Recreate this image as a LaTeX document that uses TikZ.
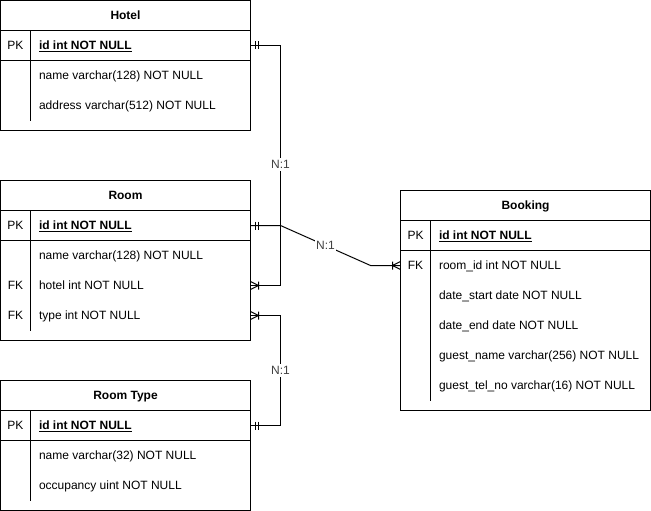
\documentclass[tikz,border=0pt]{standalone}
\usepackage{fontspec}
\setmainfont{Liberation Sans}
\usetikzlibrary{calc}
\begin{document}
\begin{tikzpicture}[x=1pt,y=-1pt,line width=1pt,
  entbox/.style={draw,black,fill=white,minimum width=250pt,anchor=north west,inner sep=0pt,outer sep=0pt},
  txt/.style={font=\fontsize{12}{14}\selectfont,inner sep=0pt,text height=8.8pt,text depth=0pt},
  ttl/.style={txt,font=\fontsize{12}{14}\selectfont\bfseries},
  fld/.style={txt,anchor=west},
  keyl/.style={txt},
  lbl/.style={txt,fill=white,inner xsep=1pt,inner ysep=2pt,text=black!75},
  conn/.style={draw,black},
  mandone/.pic={\draw[line width=1pt] (5,-4) -- (5,4) (8,-4) -- (8,4);},
  mandmany/.pic={\draw[line width=1pt] (0,-4) -- (8,0) -- (0,4) (8,-4) -- (8,4);}
]
\useasboundingbox (0,0) rectangle (651,511);
\begin{scope}[shift={(0.5,0.5)}]
% ---------- Hotel ----------
\node[entbox,minimum height=130pt] (hotel) at (0,0) {};
\node[ttl] (hoteltitle) at (125,15) {Hotel};
\draw (0,30) -- (250,30) (0,60) -- (250,60) (30,30) -- (30,120);
\node[keyl] (hotelpkl) at (15,45) {PK};
\node[fld] (hotelid) at (38,45) {\underline{\textbf{id int NOT NULL}}};
\node[fld] (hotelname) at (38,75) {name varchar(128) NOT NULL};
\node[fld] (hoteladdr) at (38,105) {address varchar(512) NOT NULL};
% ---------- Room ----------
\node[entbox,minimum height=160pt] (room) at (0,180) {};
\node[ttl] (roomtitle) at (125,195) {Room};
\draw (0,210) -- (250,210) (0,240) -- (250,240) (30,210) -- (30,330);
\node[keyl] (roompkl) at (15,225) {PK};
\node[fld] (roomid) at (38,225) {\underline{\textbf{id int NOT NULL}}};
\node[fld] (roomname) at (38,255) {name varchar(128) NOT NULL};
\node[keyl] (roomfk1) at (15,285) {FK};
\node[fld] (roomhotel) at (38,285) {hotel int NOT NULL};
\node[keyl] (roomfk2) at (15,315) {FK};
\node[fld] (roomtype) at (38,315) {type int NOT NULL};
% ---------- Room Type ----------
\node[entbox,minimum height=130pt] (rtype) at (0,380) {};
\node[ttl] (rtypetitle) at (125,395) {Room Type};
\draw (0,410) -- (250,410) (0,440) -- (250,440) (30,410) -- (30,500);
\node[keyl] (rtypepkl) at (15,425) {PK};
\node[fld] (rtypeid) at (38,425) {\underline{\textbf{id int NOT NULL}}};
\node[fld] (rtypename) at (38,455) {name varchar(32) NOT NULL};
\node[fld] (rtypeocc) at (38,485) {occupancy uint NOT NULL};
% ---------- Booking ----------
\node[entbox,minimum height=220pt] (book) at (400,190) {};
\node[ttl] (booktitle) at (525,205) {Booking};
\draw (400,220) -- (650,220) (400,250) -- (650,250) (430,220) -- (430,400);
\node[keyl] (bookpkl) at (415,235) {PK};
\node[fld] (bookid) at (438,235) {\underline{\textbf{id int NOT NULL}}};
\node[keyl] (bookfkl) at (415,265) {FK};
\node[fld] (bookroom) at (438,265) {room\_id int NOT NULL};
\node[fld] (bookstart) at (438,295) {date\_start date NOT NULL};
\node[fld] (bookend) at (438,325) {date\_end date NOT NULL};
\node[fld] (bookgname) at (438,355) {guest\_name varchar(256) NOT NULL};
\node[fld] (bookgtel) at (438,385) {guest\_tel\_no varchar(16) NOT NULL};
% ---------- Connectors ----------
\coordinate (hA) at (hotel.east |- hotelid);
\coordinate (rH) at (room.east |- roomhotel);
\coordinate (rA) at (room.east |- roomid);
\coordinate (rT) at (room.east |- roomtype);
\coordinate (tA) at (rtype.east |- rtypeid);
\coordinate (bR) at (book.west |- bookroom);
\path[conn] (hA) -- ++(30,0) |- (rH);
\node[lbl] (lab1) at (280,164) {N:1};
\path[conn] (rA) -- ++(30,0) -- ($(bR)+(-30,0)$) -- (bR);
\node[lbl] (lab2) at (325,245) {N:1};
\path[conn] (rT) -- ++(30,0) |- (tA);
\node[lbl] (lab3) at (280,370) {N:1};
% ---------- End marks ----------
\pic at (hA) {mandone};
\pic at (rH) {mandmany};
\pic at (rA) {mandone};
\pic[xscale=-1] at (bR) {mandmany};
\pic at (rT) {mandmany};
\pic at (tA) {mandone};
\end{scope}
\end{tikzpicture}
\end{document}
